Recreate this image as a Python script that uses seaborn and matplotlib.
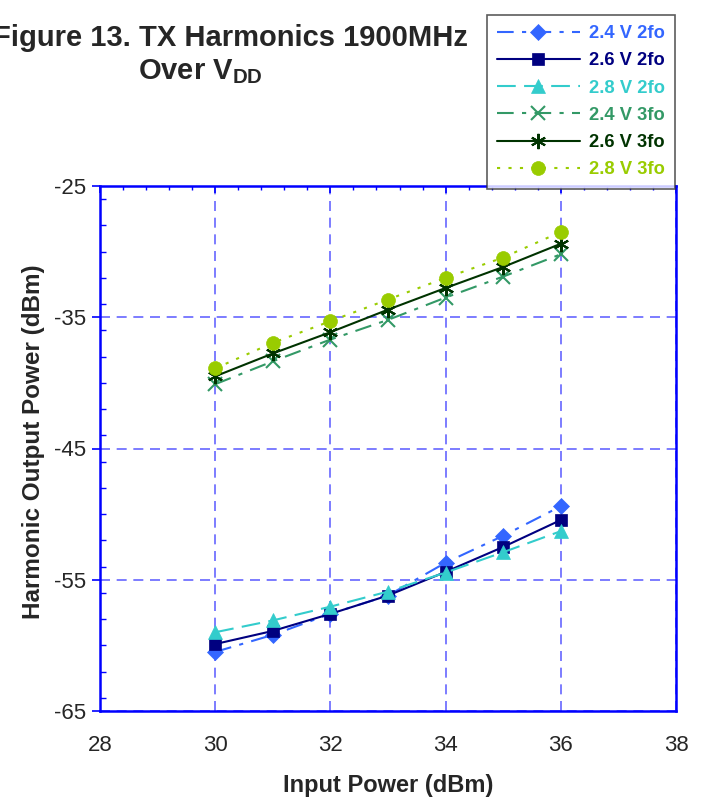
import matplotlib
matplotlib.use("Agg")
import matplotlib.pyplot as plt
import seaborn as sns
import pandas as pd
from matplotlib.ticker import MultipleLocator

sns.set_theme(style="white")
plt.rcParams['font.family'] = ['Liberation Sans', 'DejaVu Sans']
plt.rcParams['mathtext.fontset'] = 'custom'
plt.rcParams['mathtext.rm'] = 'Liberation Sans'
plt.rcParams['mathtext.bf'] = 'Liberation Sans:bold'

input_power = [30, 31, 32, 33, 34, 35, 36]
v24_2fo = [-60.5, -59.2, -57.6, -56.2, -53.7, -51.65, -49.4]
v26_2fo = [-59.9, -58.9, -57.6, -56.2, -54.4, -52.5, -50.45]
v28_2fo = [-59.0, -58.1, -57.05, -55.9, -54.45, -52.9, -51.3]
v24_3fo = [-40.1, -38.36, -36.7, -35.2, -33.5, -31.9, -30.2]
v26_3fo = [-39.5, -37.76, -36.14, -34.42, -32.77, -31.17, -29.4]
v28_3fo = [-38.9, -36.95, -35.3, -33.65, -32.0, -30.45, -28.5]

series_names = ["2.4 V 2fo", "2.6 V 2fo", "2.8 V 2fo", "2.4 V 3fo", "2.6 V 3fo", "2.8 V 3fo"]
series_values = [v24_2fo, v26_2fo, v28_2fo, v24_3fo, v26_3fo, v28_3fo]
colors = ["#3366FF", "#000080", "#33CCCC", "#339966", "#003300", "#99CC00"]
markers = ["D", "s", "^", "x", (6, 2, 0), "o"]
msizes = [8, 9, 10, 10, 11, 10]
linestyles = [(0, (8, 4, 2, 4)), "-", (0, (9, 4)), (0, (8, 4, 2, 4)), "-", (0, (1.5, 4))]

rows = []
for name, vals in zip(series_names, series_values):
    for x, y in zip(input_power, vals):
        rows.append({"Input Power (dBm)": x, "value": y, "series": name})
df = pd.DataFrame(rows)

fig = plt.figure(figsize=(7.04, 7.97), dpi=100)
ax = fig.add_axes([100/704, 1-711/797, 576/704, 525/797])

for name, c, m, ms, ls in zip(series_names, colors, markers, msizes, linestyles):
    sub = df[df["series"] == name]
    sns.lineplot(data=sub, x="Input Power (dBm)", y="value", ax=ax, color=c,
                 marker=m, markersize=ms, linestyle=ls, linewidth=1.5,
                 markeredgecolor=c, markeredgewidth=1.5 if m in ("x", (6, 2, 0)) else 0.5,
                 label=name, legend=False)

ax.set_xlim(28, 38)
ax.set_ylim(-65, -25)
ax.xaxis.set_major_locator(MultipleLocator(2))
ax.xaxis.set_minor_locator(MultipleLocator(0.4))
ax.yaxis.set_minor_locator(MultipleLocator(2))
ax.set_yticks([-65, -55, -45, -35, -25])
ax.set_yticklabels(["-65", "-55", "-45", "-35", "-25"])
ax.grid(True, which="major", color="#6666FF", linestyle=(0, (6, 4)), linewidth=1.2)
for sp in ax.spines.values():
    sp.set_color("#0000FF")
    sp.set_linewidth(1.8)
    sp.set_visible(True)
ax.tick_params(axis="y", which="major", direction="out", length=6, color="#0000FF",
               width=1.2, labelsize=16, left=True, pad=4)
ax.tick_params(axis="y", which="minor", direction="in", length=4, color="#0000FF", width=1, left=True)
ax.tick_params(axis="x", which="major", direction="in", length=5, color="#0000FF", width=1.2,
               bottom=False, top=True, labelsize=16, pad=17)
ax.tick_params(axis="x", which="minor", direction="in", length=3, color="#0000FF", width=1,
               bottom=False, top=True)

ax.set_xlabel("Input Power (dBm)", fontsize=17, fontweight="bold", labelpad=13)
ax.set_ylabel("Harmonic Output Power (dBm)", fontsize=17.5, fontweight="bold")
ax.yaxis.set_label_coords(-0.095, 0.513)

fig.text(230/704, 1-38/797, "Figure 13. TX Harmonics 1900MHz", ha="center", va="center",
         fontsize=21, fontweight="bold")
fig.text(200/704, 1-72/797, r"Over V$_{\mathbf{DD}}$", ha="center", va="center",
         fontsize=21, fontweight="bold")

handles, labels = ax.get_legend_handles_labels()
leg = fig.legend(handles, labels, loc="upper left", bbox_to_anchor=(487/704, 1-15/797),
                 frameon=True, fancybox=False, edgecolor="#333333",
                 handlelength=4.5, handletextpad=0.5, labelspacing=0.56, borderpad=0.55,
                 borderaxespad=0, prop={"weight": "bold", "size": 13.2})
leg.get_frame().set_linewidth(1.2)
for t, c in zip(leg.get_texts(), colors):
    t.set_color(c)

fig.savefig("out.png", dpi=100)
